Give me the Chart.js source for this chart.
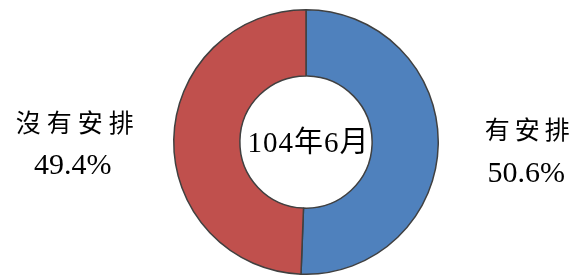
<!DOCTYPE html>
<html>
<head>
<meta charset="utf-8">
<script src="https://cdn.jsdelivr.net/npm/chart.js@4/dist/chart.umd.min.js"></script>
<style>
  html, body { margin: 0; padding: 0; background: #fff; }
  #wrap { width: 576px; height: 275px; }
</style>
</head>
<body>
<div id="wrap"><canvas id="pie"></canvas></div>
<script>
// values
const labels = ["有安排", "沒有安排"];
const values = [50.6, 49.4];
const colors = ["#4F81BD", "#C0504D"];
const centerTitle = "104年6月";

const serif = '"Liberation Serif", "DejaVu Serif", "Noto Sans CJK TC", serif';

// draw spaced text centred on x
function spacedText(ctx, str, x, y, gap) {
    const chars = Array.from(str);
    const widths = chars.map(c => ctx.measureText(c).width);
    const total = widths.reduce((a, b) => a + b, 0) + gap * (chars.length - 1);
    let cx = x - total / 2;
    ctx.textAlign = "left";
    chars.forEach((c, i) => {
        ctx.fillText(c, cx, y);
        cx += widths[i] + gap;
    });
}

const labelPlugin = {
    id: "labelPlugin",
    afterDraw(chart) {
        const ctx = chart.ctx;
        const arc = chart.getDatasetMeta(0).data[0];
        const cx = arc.x, cy = arc.y, r = arc.outerRadius;
        ctx.save();
        ctx.fillStyle = "#000";
        ctx.textBaseline = "middle";

        // centre title
        ctx.font = "29px " + serif;
        spacedText(ctx, centerTitle, cx + 2, cy + 2, 1);

        // right label (first slice)
        ctx.font = "25px " + serif;
        spacedText(ctx, labels[0], cx + r + 89, cy - 10, 5);
        ctx.font = "30px " + serif;
        ctx.textAlign = "center";
        ctx.fillText(values[0].toFixed(1) + "%", cx + r + 88, cy + 32);

        // left label (second slice)
        ctx.font = "25px " + serif;
        spacedText(ctx, labels[1], cx - r - 99, cy - 17, 6);
        ctx.font = "30px " + serif;
        ctx.textAlign = "center";
        ctx.fillText(values[1].toFixed(1) + "%", cx - r - 101, cy + 24);
        ctx.restore();
    }
};

new Chart(document.getElementById("pie").getContext("2d"), {
    type: "doughnut",
    data: {
        labels,
        datasets: [{
            data: values,
            backgroundColor: colors,
            borderColor: "#404040",
            borderWidth: 1.5
        }]
    },
    options: {
        responsive: true,
        maintainAspectRatio: false,
        animation: false,
        cutout: "50%",
        layout: { padding: { top: 9, bottom: 0, left: 36, right: 0 } },
        plugins: {
            legend: { display: false },
            tooltip: { enabled: false }
        }
    },
    plugins: [labelPlugin]
});
</script>
</body>
</html>
